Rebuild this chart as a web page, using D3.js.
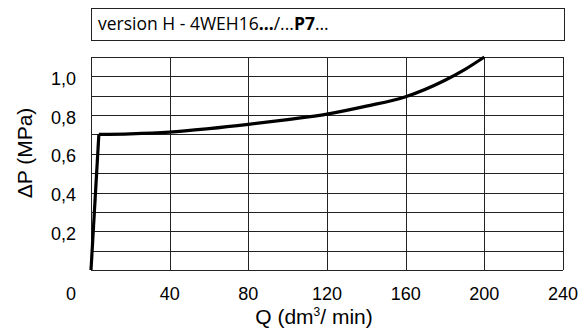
<!DOCTYPE html>
<html>
<head>
<meta charset="utf-8">
<script src="https://cdn.jsdelivr.net/npm/d3@7"></script>
<style>
  body { margin: 0; background: #fff; }
  svg { display: block; }
  .grid line { stroke: #222; stroke-width: 1; shape-rendering: crispEdges; }
  .tick-label { font-family: "Liberation Sans", Arial, sans-serif; font-size: 18px; fill: #000; }
  .axis-title { font-family: "Liberation Sans", Arial, sans-serif; font-size: 21px; fill: #000; }
  .title { font-family: "Open Sans", "Noto Sans", sans-serif; font-size: 17.5px; fill: #000; }
</style>
</head>
<body>
<script>
// flow Q (dm3/min) vs pressure drop (MPa)
var flowQ = [0, 4, 20, 40, 60, 80, 100, 120, 140, 160, 180, 190, 200];
var deltaP = [0, 0.7, 0.703, 0.712, 0.73, 0.752, 0.777, 0.805, 0.846, 0.895, 0.98, 1.035, 1.1];

var xTicks = [0, 40, 80, 120, 160, 200, 240];
var yTicks = [0.2, 0.4, 0.6, 0.8, 1.0];
var yGrid = d3.range(0, 12).map(function (i) { return i / 10; });

var W = 587, H = 334;
var plotL = 91, plotR = 563, plotT = 57, plotB = 270;

var svg = d3.select("body").append("svg")
  .attr("width", W)
  .attr("height", H);

var x = d3.scaleLinear().domain([0, 240]).range([plotL, plotR]);
var y = d3.scaleLinear().domain([0, 1.1]).range([plotB, plotT]);

// title box
svg.append("rect")
  .attr("x", 91.5).attr("y", 8.5)
  .attr("width", 473).attr("height", 32)
  .attr("fill", "none").attr("stroke", "#222").attr("stroke-width", 1);

var title = svg.append("text").attr("class", "title").attr("x", 98).attr("y", 30);
title.append("tspan").text("version H - 4WEH16");
title.append("tspan").attr("font-weight", "bold").text("...");
title.append("tspan").text("/...");
title.append("tspan").attr("font-weight", "bold").text("P7");
title.append("tspan").text("...");

// grid
var grid = svg.append("g").attr("class", "grid");
grid.selectAll("line.h").data(yGrid).enter().append("line")
  .attr("class", "h")
  .attr("x1", plotL).attr("x2", plotR)
  .attr("y1", function (d) { return Math.round(y(d)) + 0.5; })
  .attr("y2", function (d) { return Math.round(y(d)) + 0.5; });
grid.selectAll("line.v").data(xTicks).enter().append("line")
  .attr("class", "v")
  .attr("y1", y(1.1)).attr("y2", y(0))
  .attr("x1", function (d) { return Math.round(x(d)) + 0.5; })
  .attr("x2", function (d) { return Math.round(x(d)) + 0.5; });

// y tick labels
svg.selectAll("text.yl").data(yTicks).enter().append("text")
  .attr("class", "tick-label yl")
  .attr("x", 76)
  .attr("y", function (d) { return y(d) + 8.5; })
  .attr("text-anchor", "end")
  .text(function (d) { return d3.format(".1f")(d).replace(".", ","); });

// x tick labels
svg.selectAll("text.xl").data(xTicks).enter().append("text")
  .attr("class", "tick-label xl")
  .attr("x", function (d) { return d === 0 ? 71 : x(d); })
  .attr("y", 299.5)
  .attr("text-anchor", "middle")
  .text(function (d) { return d; });

// axis titles
svg.append("text")
  .attr("class", "axis-title")
  .attr("transform", "translate(32,153) rotate(-90)")
  .attr("text-anchor", "middle")
  .text("ΔP (MPa)");

var xt = svg.append("text")
  .attr("class", "axis-title")
  .attr("x", 314).attr("y", 324)
  .attr("text-anchor", "middle");
xt.append("tspan").text("Q (dm");
xt.append("tspan").attr("font-size", "12px").attr("dy", -8).text("3");
xt.append("tspan").attr("dy", 8).text("/ min)");

// curve
var pts = flowQ.map(function (q, i) { return [q, deltaP[i]]; });
var line = d3.line()
  .x(function (d) { return x(d[0]); })
  .y(function (d) { return y(d[1]); })
  .curve(d3.curveMonotoneX);

svg.append("path")
  .datum(pts.slice(1))
  .attr("d", line)
  .attr("fill", "none")
  .attr("stroke", "#000")
  .attr("stroke-width", 3.2);

svg.append("path")
  .datum(pts.slice(0, 2))
  .attr("d", d3.line().x(function (d) { return x(d[0]); }).y(function (d) { return y(d[1]); }))
  .attr("fill", "none")
  .attr("stroke", "#000")
  .attr("stroke-width", 3.2);
</script>
</body>
</html>
